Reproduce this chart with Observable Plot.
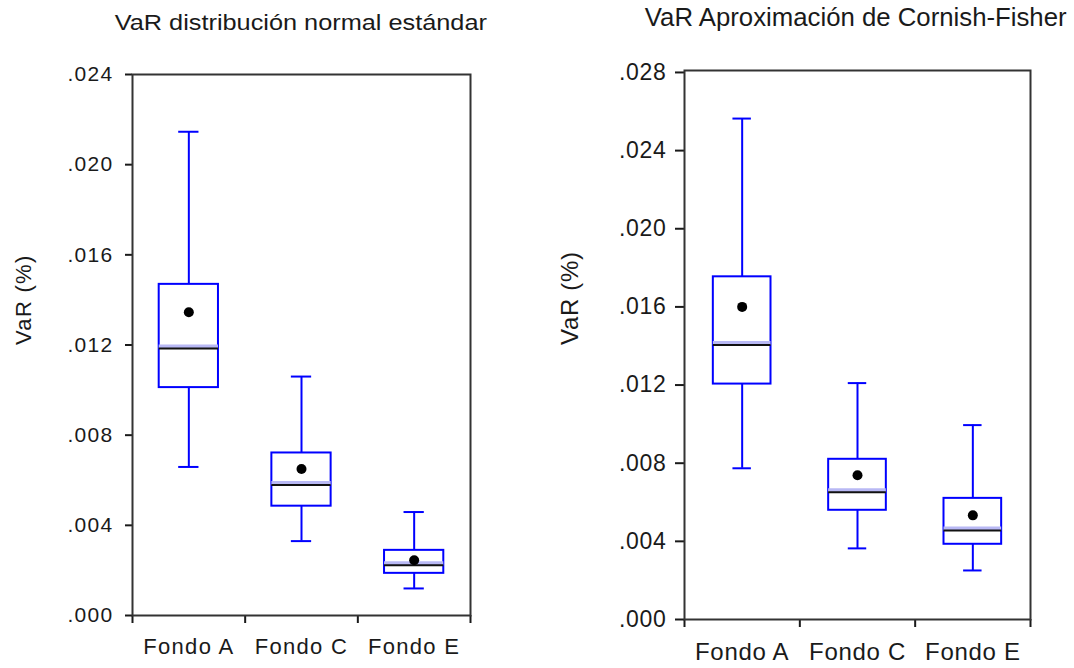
<!DOCTYPE html>
<html>
<head>
<meta charset="utf-8">
<script src="https://cdn.jsdelivr.net/npm/d3@7"></script>
<script src="https://cdn.jsdelivr.net/npm/@observablehq/plot@0.6"></script>
<style>
  body { margin: 0; background: #fff; }
  #wrap { position: relative; width: 1074px; height: 668px; overflow: hidden;
          font-family: "Liberation Sans", Arial, sans-serif; color: #1a1a1a; }
  .title { position: absolute; white-space: nowrap; text-align: center; }
  .title span { display: inline-block; transform-origin: center; }
  .panel { position: absolute; top: 50px; }
</style>
</head>
<body>
<div id="wrap">
  <div class="title" style="left:0;width:602px;top:12px;font-size:22px;line-height:22px;"><span style="transform:scaleX(1.15)">VaR distribución normal estándar</span></div>
  <div class="title" style="left:556px;width:600px;top:4px;font-size:25px;line-height:26px;"><span style="transform:scaleX(1.03)">VaR Aproximación de Cornish-Fisher</span></div>
  <div class="panel" id="left" style="left:0"></div>
  <div class="panel" id="right" style="left:540px"></div>
</div>
<script>
// Funds on the horizontal axis
const funds = ["Fondo A", "Fondo C", "Fondo E"];
const yLabel = "VaR (%)";

// VaR under the standard normal distribution
const normalMin    = [0.00659, 0.00330, 0.00120];
const normalQ1     = [0.01011, 0.00485, 0.00187];
const normalMedian = [0.01184, 0.00579, 0.00223];
const normalMean   = [0.01345, 0.00650, 0.00245];
const normalQ3     = [0.01469, 0.00721, 0.00289];
const normalMax    = [0.02146, 0.01060, 0.00459];
const normalTicks  = [0, 0.004, 0.008, 0.012, 0.016, 0.020, 0.024];

// VaR with the Cornish-Fisher expansion
const cfMin    = [0.00774, 0.00364, 0.00251];
const cfQ1     = [0.01205, 0.00559, 0.00385];
const cfMedian = [0.01405, 0.00651, 0.00456];
const cfMean   = [0.01600, 0.00738, 0.00533];
const cfQ3     = [0.01754, 0.00820, 0.00620];
const cfMax    = [0.02564, 0.01210, 0.00995];
const cfTicks  = [0, 0.004, 0.008, 0.012, 0.016, 0.020, 0.024, 0.028];

const BLUE = "#0000ff";
const INK = "#1a1a1a";

const rowsOf = (lo, q1, med, mean, q3, hi) =>
  funds.map((fund, i) => ({fund, c: i + 0.5, lo: lo[i], q1: q1[i], med: med[i], mean: mean[i], q3: q3[i], hi: hi[i]}));

function boxPanel(rows, o) {
  const bh = o.boxHalf, ch = o.capHalf;
  return Plot.plot({
    width: o.width,
    height: o.height,
    marginLeft: o.marginLeft,
    marginRight: o.marginRight,
    marginTop: o.marginTop,
    marginBottom: o.marginBottom,
    style: {fontFamily: '"Liberation Sans", Arial, sans-serif', color: INK, background: "white", letterSpacing: o.spacing, overflow: "visible"},
    x: {type: "linear", domain: [0, funds.length], axis: null},
    y: {domain: o.yDomain, axis: null},
    marks: [
      Plot.axisY({ticks: o.ticks, tickSize: o.tickSize, tickPadding: o.tickPadding, strokeWidth: 2,
        tickFormat: d => d3.format(".3f")(d).slice(1), fontSize: o.tickFont, label: null}),
      Plot.axisX({ticks: d3.range(funds.length + 1), tickSize: 8, strokeWidth: 2, tickFormat: () => "", label: null}),
      Plot.text(funds, {x: (d, i) => i + 0.5, frameAnchor: "bottom", dy: o.labelDy, lineAnchor: "middle", fontSize: o.labelFont, text: d => d}),
      Plot.text([yLabel], {frameAnchor: "left", dx: o.yLabelDx, rotate: -90, lineAnchor: "middle", fontSize: o.labelFont, text: d => d}),
      // whiskers and caps
      Plot.ruleX(rows, {x: "c", y1: "q3", y2: "hi", stroke: BLUE, strokeWidth: 2}),
      Plot.ruleX(rows, {x: "c", y1: "lo", y2: "q1", stroke: BLUE, strokeWidth: 2}),
      Plot.ruleY(rows, {y: "hi", x1: d => d.c - ch, x2: d => d.c + ch, stroke: BLUE, strokeWidth: 2}),
      Plot.ruleY(rows, {y: "lo", x1: d => d.c - ch, x2: d => d.c + ch, stroke: BLUE, strokeWidth: 2}),
      // interquartile box
      Plot.rect(rows, {x1: d => d.c - bh, x2: d => d.c + bh, y1: "q1", y2: "q3", fill: "none", stroke: BLUE, strokeWidth: 2}),
      // median with its light band
      Plot.ruleY(rows, {y: "med", x1: d => d.c - bh, x2: d => d.c + bh, stroke: "#b8b8f4", strokeWidth: 4, dy: -2}),
      Plot.ruleY(rows, {y: "med", x1: d => d.c - bh, x2: d => d.c + bh, stroke: "#111", strokeWidth: 2}),
      // mean
      Plot.dot(rows, {x: "c", y: "mean", r: 5, fill: "#000", stroke: "none"}),
      Plot.frame({stroke: "#333", strokeWidth: 2})
    ]
  });
}

document.getElementById("left").append(boxPanel(
  rowsOf(normalMin, normalQ1, normalMedian, normalMean, normalQ3, normalMax),
  {width: 480, height: 615, marginLeft: 132, marginRight: 10, marginTop: 24, marginBottom: 50,
   yDomain: [0, 0.024], ticks: normalTicks, tickSize: 7, tickPadding: 12, tickFont: 21,
   labelFont: 22, labelDy: 31, yLabelDx: -109, boxHalf: 0.263, capHalf: 0.09, spacing: "1.3px"}));

document.getElementById("right").append(boxPanel(
  rowsOf(cfMin, cfQ1, cfMedian, cfMean, cfQ3, cfMax),
  {width: 500, height: 614, marginLeft: 144, marginRight: 10, marginTop: 20, marginBottom: 45,
   yDomain: [0, 0.0281], ticks: cfTicks, tickSize: 9, tickPadding: 9, tickFont: 23,
   labelFont: 24, labelDy: 33, yLabelDx: -114, boxHalf: 0.25, capHalf: 0.08, spacing: "0.7px"}));
</script>
</body>
</html>
